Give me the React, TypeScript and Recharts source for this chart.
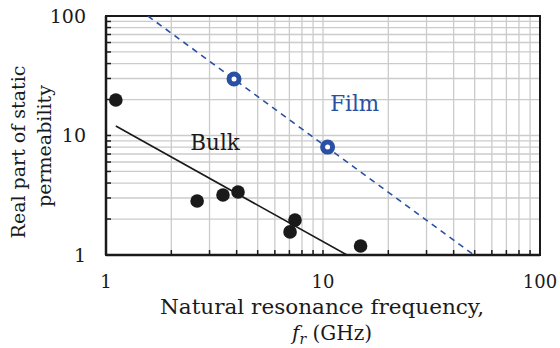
import { ScatterChart, Scatter, XAxis, YAxis, CartesianGrid, ReferenceArea, ReferenceDot } from 'recharts'

// bulk samples (f_r in GHz, static permeability)
const bulkPoints = [
  { f: 1.11, mu: 19.8 },
  { f: 2.63, mu: 2.83 },
  { f: 3.46, mu: 3.18 },
  { f: 4.06, mu: 3.37 },
  { f: 7.05, mu: 1.56 },
  { f: 7.43, mu: 1.96 },
  { f: 14.9, mu: 1.19 },
]
const bulkFit = [
  { f: 1.11, mu: 12.0 },
  { f: 12.9, mu: 1 },
]
const filmPoints = [
  { f: 3.89, mu: 29.7 },
  { f: 10.5, mu: 8.0 },
]
const filmFit = [
  { f: 1.56, mu: 100 },
  { f: 49.6, mu: 1 },
]
const logTicks = [1, 2, 3, 4, 5, 6, 7, 8, 9, 10, 20, 30, 40, 50, 60, 70, 80, 90, 100]
const majorTicks = [1, 10, 100]

const FONT = '"DejaVu Serif", serif'
const BLUE = '#2a50a4'
const INK = '#1a1a1a'

const fmt = (v: number) => (majorTicks.includes(v) ? String(v) : '')

function YTitle() {
  return (
    <g fontFamily={FONT} fontSize={19} fill={INK} textAnchor="middle">
      <text x={25} y={152} transform="rotate(-90 25 152)">Real part of static</text>
      <text x={51} y={146} transform="rotate(-90 51 146)">permeability</text>
    </g>
  )
}

function XTitle() {
  return (
    <g fontFamily={FONT} fontSize={20} fill={INK} textAnchor="middle">
      <text x={322} y={314} textLength={324} lengthAdjust="spacingAndGlyphs">
        Natural resonance frequency,
      </text>
      <text x={332} y={340}>
        <tspan fontStyle="italic">f</tspan>
        <tspan fontStyle="italic" fontSize={14} dy={4}>r</tspan>
        <tspan dy={-4}> (GHz)</tspan>
      </text>
    </g>
  )
}

export default function App() {
  return (
    <div style={{ position: 'absolute', left: 0, top: 0, background: '#fff' }}>
      <ScatterChart width={560} height={348} margin={{ top: 16, right: 20, left: 0, bottom: 0 }}>
        <CartesianGrid stroke="#cbcbcb" strokeWidth={1.3} />
        <XAxis
          type="number"
          dataKey="f"
          scale="log"
          domain={[1, 100]}
          ticks={logTicks}
          interval={0}
          tickFormatter={fmt}
          height={93}
          tickSize={-5}
          tickMargin={25}
          tick={{ fontSize: 18, fontFamily: FONT, fill: INK }}
          tickLine={{ stroke: INK, strokeWidth: 1.5 }}
          axisLine={{ stroke: INK, strokeWidth: 2.5 }}
          allowDataOverflow
          label={<XTitle />}
        />
        <YAxis
          type="number"
          dataKey="mu"
          scale="log"
          domain={[1, 100]}
          ticks={logTicks}
          interval={0}
          tickFormatter={fmt}
          width={106}
          tickSize={-5}
          tickMargin={25}
          tick={{ fontSize: 19, fontFamily: FONT, fill: INK }}
          tickLine={{ stroke: INK, strokeWidth: 1.5 }}
          axisLine={{ stroke: INK, strokeWidth: 2.5 }}
          allowDataOverflow
          label={<YTitle />}
        />
        <ReferenceArea x1={1} x2={100} y1={1} y2={100} fill="none" stroke={INK} strokeWidth={2} />
        <Scatter
          data={filmFit}
          line={{ stroke: BLUE, strokeWidth: 1.6, strokeDasharray: '6 5' }}
          lineType="joint"
          shape={() => <g />}
          isAnimationActive={false}
        />
        <Scatter
          data={bulkFit}
          line={{ stroke: INK, strokeWidth: 1.6 }}
          lineType="joint"
          shape={() => <g />}
          isAnimationActive={false}
        />
        <Scatter
          data={bulkPoints}
          shape={(p: any) => <circle cx={p.cx} cy={p.cy} r={6.8} fill={INK} />}
          isAnimationActive={false}
        />
        <Scatter
          data={filmPoints}
          shape={(p: any) => (
            <circle cx={p.cx} cy={p.cy} r={5} fill="#fff" stroke={BLUE} strokeWidth={5} />
          )}
          isAnimationActive={false}
        />
        <ReferenceDot
          x={14}
          y={18.7}
          r={0}
          fill="none"
          stroke="none"
          label={{ value: 'Film', position: 'center', fill: BLUE, fontSize: 21.5, fontFamily: FONT }}
        />
        <ReferenceDot
          x={3.18}
          y={8.83}
          r={0}
          fill="none"
          stroke="none"
          label={{ value: 'Bulk', position: 'center', fill: INK, fontSize: 21.5, fontFamily: FONT }}
        />
      </ScatterChart>
    </div>
  )
}
